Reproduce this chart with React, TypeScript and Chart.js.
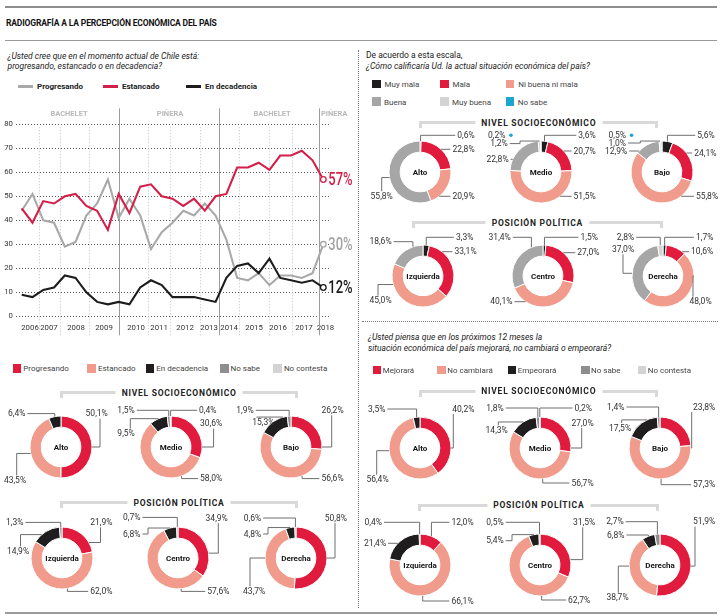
import React, { useEffect, useRef } from "react";
import { Chart, registerables } from "chart.js";
Chart.register(...registerables);

const FONT = "Roboto, 'Noto Sans', 'DejaVu Sans', sans-serif";

// ---------- colours ----------
const RED = "#e11b3e";
const SALMON = "#f09b8c";
const BLACK = "#1f1d1d";
const GRAY = "#a6a6a6";
const NSGRAY = "#8e8e8e";
const LGRAY = "#d3d3d3";
const CYAN = "#1ba6cf";
const LINE_RED = "#d41f4a";
const LINE_GRAY = "#a9a9a9";
const LINE_BLACK = "#1c1c1c";

// ---------- line chart data ----------
const years = ["2006", "2007", "2008", "2009", "2010", "2011", "2012", "2013", "2014", "2015", "2016", "2017", "2018"];
const yearTickIndex = [0.77, 2.53, 5.04, 7.64, 10.61, 12.75, 15.16, 17.39, 19.25, 21.57, 23.8, 26.2, 28.2];
const yearSeparatorIndex = [1.63, 3.56, 6.28, 11.73, 13.77, 16.55, 20.18, 22.96, 25.1];
const governments = ["BACHELET", "PIÑERA", "BACHELET", "PIÑERA"];
const governmentCenterIndex = [4.39, 13.77, 23.24, 29.0];
const governmentChangeIndex = [9.03, 18.35, 27.63];

const progresando = [44, 51, 40, 39, 29, 31, 42, 47, 57, 41, 49, 42, 28, 35, 39, 44, 42, 47, 42, 32, 16, 15, 18, 13, 17, 17, 16, 18, 30];
const estancado = [45, 39, 48, 47, 50, 51, 46, 44, 36, 51, 43, 54, 55, 50, 49, 46, 49, 44, 50, 51, 62, 62, 64, 61, 67, 67, 69, 65, 57];
const decadencia = [9, 8, 11, 12, 17, 16, 10, 6, 5, 6, 5, 12, 15, 13, 8, 8, 8, 7, 6, 16, 21, 22, 18, 24, 16, 15, 14, 15, 12];

// ---------- doughnut data ----------
const califCategories = ["Muy mala", "Mala", "Ni buena ni mala", "Buena", "Muy buena", "No sabe"];
const califColors = [BLACK, RED, SALMON, GRAY, LGRAY, CYAN];
const califAlto = [0.6, 22.8, 20.9, 55.8, 0, 0];
const califMedio = [3.6, 20.7, 51.5, 22.8, 1.2, 0.2];
const califBajo = [5.6, 24.1, 55.8, 12.9, 1.0, 0.5];
const califIzquierda = [3.3, 33.1, 45.0, 18.6, 0, 0];
const califCentro = [1.5, 27.0, 40.1, 31.4, 0, 0];
const califDerecha = [1.7, 10.6, 48.0, 37.0, 2.8, 0];

const momentoCategories = ["Progresando", "Estancado", "En decadencia", "No sabe", "No contesta"];
const momentoColors = [RED, SALMON, BLACK, NSGRAY, LGRAY];
const momentoAlto = [50.1, 43.5, 6.4, 0, 0];
const momentoMedio = [30.6, 58.0, 9.5, 1.5, 0.4];
const momentoBajo = [26.2, 56.6, 15.3, 1.9, 0];
const momentoIzquierda = [21.9, 62.0, 14.9, 1.3, 0];
const momentoCentro = [34.9, 57.6, 6.8, 0.7, 0];
const momentoDerecha = [50.8, 43.7, 4.8, 0.6, 0];

const futuroCategories = ["Mejorará", "No cambiará", "Empeorará", "No sabe", "No contesta"];
const futuroColors = [RED, SALMON, BLACK, NSGRAY, LGRAY];
const futuroAlto = [40.2, 56.4, 3.5, 0, 0];
const futuroMedio = [27.0, 56.7, 14.3, 1.8, 0.2];
const futuroBajo = [23.8, 57.3, 17.5, 1.4, 0];
const futuroIzquierda = [12.0, 66.1, 21.4, 0.4, 0];
const futuroCentro = [31.5, 62.7, 5.4, 0.5, 0];
const futuroDerecha = [51.9, 38.7, 6.8, 2.7, 0];

// ---------- label layouts (offsets from ring centre, leader style) ----------
type Lbl = { dx: number; dy: number; m: string; a?: number; ex?: number } | null;

const L_TR_ALTO: Lbl[] = [{ dx: 46, dy: -36.7, m: "e" }, { dx: 43.5, dy: -22.7, m: "h" }, { dx: 43.5, dy: 24.3, m: "h" }, { dx: -38.3, dy: 24.3, m: "v" }, null, null];
const L_TR_MEDIO: Lbl[] = [{ dx: 46, dy: -36.7, m: "e" }, { dx: 43.7, dy: -21, m: "h" }, { dx: 43.7, dy: 24.3, m: "h" }, { dx: -43.5, dy: -12.7, m: "h" }, { dx: -42, dy: -28.4, m: "z", ex: -21 }, { dx: -44.3, dy: -36.7, m: "dot" }];
const L_TR_BAJO: Lbl[] = [{ dx: 44, dy: -36.7, m: "e" }, { dx: 43.3, dy: -19, m: "h" }, { dx: 45, dy: 24.3, m: "h" }, { dx: -45.9, dy: -21, m: "h" }, { dx: -44.7, dy: -29, m: "z", ex: -21.7 }, { dx: -44.7, dy: -36.7, m: "dot" }];
const L_TR_IZQ: Lbl[] = [{ dx: 41.7, dy: -38.7, m: "e" }, { dx: 42.5, dy: -24.3, m: "h" }, { dx: -42.5, dy: 24.7, m: "v", a: 254, ex: -45 }, { dx: -42.5, dy: -34.3, m: "e", a: 341 }, null, null];
const L_TR_CEN: Lbl[] = [{ dx: 46.2, dy: -38.7, m: "e" }, { dx: 45.4, dy: -23.3, m: "h" }, { dx: -41.6, dy: 25.7, m: "h" }, { dx: -43.3, dy: -38.7, m: "e", a: 338 }, null, null];
const L_TR_DER: Lbl[] = [{ dx: 41.7, dy: -38.7, m: "e" }, { dx: 39.2, dy: -24.3, m: "h" }, { dx: 37.5, dy: 25.7, m: "v", a: 90, ex: 30 }, { dx: -40, dy: -26.7, m: "v", a: 275 }, { dx: -37.5, dy: -38.7, m: "e" }, null];

const L_LB_ALTO: Lbl[] = [{ dx: 35.7, dy: -33.4, m: "v", a: 90, ex: 39 }, { dx: -46, dy: 33.3, m: "v", a: 258, ex: -44.3 }, { dx: -44.3, dy: -33.4, m: "e" }, null, null];
const L_LB_MEDIO: Lbl[] = [{ dx: 40.1, dy: -23.4, m: "v", a: 90, ex: 42.6 }, { dx: 40.1, dy: 31.6, m: "e", a: 160 }, { dx: -44.9, dy: -13.4, m: "v", ex: -40.7 }, { dx: -44.9, dy: -36.7, m: "e" }, { dx: 36.8, dy: -36.7, m: "e" }];
const L_LB_BAJO: Lbl[] = [{ dx: 41.5, dy: -36.7, m: "v", a: 90, ex: 40.7 }, { dx: 41.5, dy: 31.6, m: "e", a: 159 }, { dx: -27.7, dy: -24.5, m: "v", a: 345, ex: -34.3 }, { dx: -46, dy: -36.7, m: "e" }, null];
const L_LB_IZQ: Lbl[] = [{ dx: 39.3, dy: -35.6, m: "v", a: 60, ex: 38.5 }, { dx: 39.3, dy: 33.4, m: "e", a: 170 }, { dx: -44, dy: -6.6, m: "v", a: 319, ex: -41.5 }, { dx: -47.3, dy: -35.6, m: "e" }, null];
const L_LB_CEN: Lbl[] = [{ dx: 38.7, dy: -40, m: "v", a: 81, ex: 40.3 }, { dx: 40.3, dy: 33.4, m: "e", a: 174 }, { dx: -46.3, dy: -24, m: "z", ex: -30 }, { dx: -46.3, dy: -40.6, m: "e" }, null];
const L_LB_DER: Lbl[] = [{ dx: 39.8, dy: -40, m: "v", a: 90, ex: 39 }, { dx: -41.8, dy: 33.4, m: "v", a: 270, ex: -46 }, { dx: -43.5, dy: -24, m: "z", ex: -28 }, { dx: -43.5, dy: -40, m: "e" }, null];

const L_RB_ALTO: Lbl[] = [{ dx: 43.3, dy: -39, m: "v", a: 90, ex: 33.3 }, { dx: -42.5, dy: 31.7, m: "v", a: 265, ex: -43.3 }, { dx: -43.3, dy: -39, m: "e" }, null, null];
const L_RB_MEDIO: Lbl[] = [{ dx: 42.5, dy: -25, m: "v", a: 90, ex: 41.7 }, { dx: 42.5, dy: 35, m: "e", a: 175 }, { dx: -43.3, dy: -17.6, m: "v", ex: -41.7 }, { dx: -45, dy: -40, m: "e" }, { dx: 43.3, dy: -40, m: "e" }];
const L_RB_BAJO: Lbl[] = [{ dx: 44.2, dy: -41, m: "v", a: 90, ex: 31.7 }, { dx: 44.2, dy: 36.7, m: "e", a: 178 }, { dx: -40, dy: -20, m: "v", a: 335, ex: -38.3 }, { dx: -44.2, dy: -41, m: "e" }, null];
const L_RB_IZQ: Lbl[] = [{ dx: 42.5, dy: -42.7, m: "e" }, { dx: 42.5, dy: 36, m: "e", a: 175 }, { dx: -45, dy: -21.7, m: "h" }, { dx: -46.7, dy: -42.7, m: "e" }, null];
const L_RB_CEN: Lbl[] = [{ dx: 44.2, dy: -42.7, m: "v", a: 80, ex: 42.7 }, { dx: 39.2, dy: 35, m: "e", a: 177 }, { dx: -45, dy: -24.3, m: "z", ex: -28 }, { dx: -45, dy: -42.7, m: "e" }, null];
const L_RB_DER: Lbl[] = [{ dx: 44.2, dy: -43.3, m: "v", a: 92, ex: 35 }, { dx: -42.5, dy: 32.7, m: "v", a: 268, ex: -41.7 }, { dx: -44.2, dy: -30, m: "e" }, { dx: -45, dy: -43.3, m: "e" }, null];

// ---------- components ----------
function LineChart() {
  const ref = useRef<HTMLCanvasElement>(null);
  useEffect(() => {
    const pts = (arr: number[]) => arr.map((v, i) => ({ x: i, y: v }));
    const last = progresando.length - 1;
    const overlay = {
      id: "overlay",
      beforeDatasetsDraw(chart: any) {
        const { ctx, chartArea } = chart;
        const x = chart.scales.x;
        ctx.save();
        ctx.lineWidth = 1;
        ctx.strokeStyle = "#c2c2c2";
        ctx.setLineDash([1, 2]);
        yearSeparatorIndex.forEach((v) => {
          const px = Math.round(x.getPixelForValue(v)) + 0.5;
          ctx.beginPath();
          ctx.moveTo(px, chartArea.top + 3);
          ctx.lineTo(px, chartArea.bottom + 19);
          ctx.stroke();
        });
        ctx.setLineDash([]);
        ctx.strokeStyle = "#9c9c9c";
        governmentChangeIndex.forEach((v) => {
          const px = Math.round(x.getPixelForValue(v)) + 0.5;
          ctx.beginPath();
          ctx.moveTo(px, chartArea.top - 16);
          ctx.lineTo(px, chartArea.bottom + 19);
          ctx.stroke();
        });
        ctx.fillStyle = "#b9b9b9";
        ctx.font = `bold 7.5px ${FONT}`;
        ctx.textAlign = "center";
        ctx.textBaseline = "middle";
        governments.forEach((g, i) => {
          ctx.fillText(g, x.getPixelForValue(governmentCenterIndex[i]), chartArea.top - 10);
        });
        ctx.restore();
      },
      afterDatasetsDraw(chart: any) {
        const ctx = chart.ctx;
        chart.data.datasets.forEach((ds: any, di: number) => {
          const meta = chart.getDatasetMeta(di);
          const pt = meta.data[meta.data.length - 1];
          const val = ds.data[ds.data.length - 1].y;
          ctx.save();
          ctx.fillStyle = ds.endColor;
          ctx.font = `500 18px ${FONT}`;
          ctx.textBaseline = "middle";
          ctx.textAlign = "left";
          ctx.translate(pt.x + 5, pt.y + 1);
          ctx.scale(0.72, 1);
          ctx.fillText(`${val}%`, 0, 0);
          ctx.restore();
        });
      },
    };
    const mkDs = (label: string, data: number[], color: string, endColor: string) => ({
      label,
      data: pts(data),
      borderColor: color,
      endColor,
      borderWidth: 2.1,
      tension: 0,
      pointRadius: (c: any) => (c.dataIndex === last ? 2.8 : 0),
      pointBackgroundColor: "#fff",
      pointBorderColor: color,
      pointBorderWidth: 1.3,
      fill: false,
    });
    const chart = new Chart(ref.current as HTMLCanvasElement, {
      type: "line",
      data: {
        datasets: [
          mkDs("En decadencia", decadencia, LINE_BLACK, "#1a1a1a"),
          mkDs("Estancado", estancado, LINE_RED, LINE_RED),
          mkDs("Progresando", progresando, LINE_GRAY, "#a3a3a3"),
        ] as any,
      },
      options: {
        animation: false,
        responsive: false,
        events: [],
        layout: { padding: { top: 24.3, right: 28, left: 0, bottom: 0 } },
        plugins: { legend: { display: false }, tooltip: { enabled: false } },
        scales: {
          x: {
            type: "linear",
            min: -0.53,
            max: 28.62,
            afterBuildTicks: (s: any) => {
              s.ticks = yearTickIndex.map((v) => ({ value: v }));
            },
            afterFit: (s: any) => {
              s.height = 23.7;
            },
            ticks: {
              autoSkip: false,
              maxRotation: 0,
              padding: 7,
              color: "#333",
              font: { size: 7.8, family: FONT },
              callback: (_v: any, i: number) => years[i],
            },
            grid: { display: false, drawTicks: false },
            border: { display: false },
          },
          y: {
            min: 0,
            max: 80,
            ticks: { stepSize: 10, padding: 3, color: "#333", font: { size: 7.8, family: FONT } },
            afterFit: (s: any) => {
              s.width = 16;
            },
            grid: { color: "#5a5a5a", drawTicks: false, lineWidth: 1 },
            border: { display: false, dash: [1, 2] },
          },
        },
      } as any,
      plugins: [overlay],
    });
    return () => chart.destroy();
  }, []);
  return (
    <canvas
      ref={ref}
      width={358}
      height={240}
      style={{ position: "absolute", left: 0, top: 100, width: 358, height: 240 }}
    />
  );
}

function Donut({ cx, cy, name, values, colors, categories, layout }: any) {
  const ref = useRef<HTMLCanvasElement>(null);
  const W = 124;
  const H = 104;
  useEffect(() => {
    const plugin = {
      id: "donutLabels",
      afterDatasetsDraw(chart: any) {
        const ctx = chart.ctx;
        const meta = chart.getDatasetMeta(0);
        const first = meta.data[0];
        const ox = first.x;
        const oy = first.y;
        const R = first.outerRadius;
        ctx.save();
        ctx.fillStyle = "#151515";
        ctx.font = `bold 8px ${FONT}`;
        ctx.textAlign = "center";
        ctx.textBaseline = "middle";
        ctx.fillText(name, ox, oy + 0.5);
        ctx.font = `8.5px ${FONT}`;
        layout.forEach((L: Lbl, i: number) => {
          if (!L) return;
          const arc = meta.data[i];
          const ang = L.a !== undefined ? (L.a * Math.PI) / 180 - Math.PI / 2 : (arc.startAngle + arc.endAngle) / 2;
          const ax = ox + R * Math.cos(ang);
          const ay = oy + R * Math.sin(ang);
          const lx = ox + L.dx;
          const ly = oy + L.dy;
          const txt = values[i].toFixed(1).replace(".", ",") + "%";
          const w = ctx.measureText(txt).width;
          ctx.fillStyle = "#333";
          ctx.fillText(txt, lx, ly + 0.5);
          const right = L.dx > 0;
          const edge = right ? lx - w / 2 - 2 : lx + w / 2 + 2;
          ctx.strokeStyle = "#6e6e6e";
          ctx.lineWidth = 1;
          ctx.beginPath();
          if (L.m === "h") {
            const hx = ox + (right ? 1 : -1) * Math.sqrt(Math.max(R * R - L.dy * L.dy, 0));
            ctx.moveTo(edge, ly);
            ctx.lineTo(hx, ly);
          } else if (L.m === "e") {
            ctx.moveTo(edge, ly);
            ctx.lineTo(ax, ly);
            ctx.lineTo(ax, ay);
          } else if (L.m === "v") {
            const vx = ox + (L.ex !== undefined ? L.ex : L.dx);
            const sy = ay < ly ? ly - 5 : ly + 5;
            ctx.moveTo(vx, sy);
            ctx.lineTo(vx, ay);
            ctx.lineTo(ax, ay);
          } else if (L.m === "z") {
            const zx = ox + (L.ex !== undefined ? L.ex : 0);
            ctx.moveTo(edge, ly);
            ctx.lineTo(zx, ly);
            ctx.lineTo(zx, ay);
            ctx.lineTo(ax, ay);
          }
          ctx.stroke();
          if (L.m === "dot") {
            ctx.fillStyle = colors[i];
            ctx.beginPath();
            ctx.arc(edge + 3.5, ly, 1.8, 0, Math.PI * 2);
            ctx.fill();
          }
        });
        ctx.restore();
      },
    };
    const chart = new Chart(ref.current as HTMLCanvasElement, {
      type: "doughnut",
      data: {
        labels: categories,
        datasets: [{ data: values, backgroundColor: colors, borderColor: "#fff", borderWidth: 1 }],
      },
      options: {
        animation: false,
        responsive: false,
        events: [],
        radius: 31,
        cutout: "64%",
        plugins: { legend: { display: false }, tooltip: { enabled: false } },
      } as any,
      plugins: [plugin],
    });
    return () => chart.destroy();
  }, []);
  return (
    <canvas
      ref={ref}
      width={W}
      height={H}
      style={{ position: "absolute", left: cx - W / 2, top: cy - H / 2, width: W, height: H }}
    />
  );
}

function Txt({ x, y, children, style }: any) {
  return (
    <div
      style={{
        position: "absolute",
        left: x,
        top: y,
        transform: "translateY(-50%)",
        whiteSpace: "nowrap",
        lineHeight: "11px",
        fontSize: 8,
        color: "#333",
        ...style,
      }}
    >
      {children}
    </div>
  );
}

function Bracket({ x1, x2, y, text }: any) {
  return (
    <>
      <div
        style={{
          position: "absolute",
          left: x1,
          top: y - 1.5,
          width: x2 - x1,
          height: 7,
          boxSizing: "border-box",
          borderTop: "3px solid #d9d9d9",
          borderLeft: "3px solid #d9d9d9",
          borderRight: "3px solid #d9d9d9",
        }}
      />
      <div
        style={{
          position: "absolute",
          left: (x1 + x2) / 2,
          top: y,
          transform: "translate(-50%, -50%)",
          background: "#fff",
          padding: "0 6px",
          fontWeight: "bold",
          fontSize: 8.5,
          letterSpacing: "0.75px",
          color: "#222",
          whiteSpace: "nowrap",
          lineHeight: "10px",
        }}
      >
        {text}
      </div>
    </>
  );
}

function SquareLegend({ items, y }: any) {
  return (
    <>
      {items.map((it: any, i: number) => (
        <React.Fragment key={i}>
          <div style={{ position: "absolute", left: it.x, top: y - 4.25, width: 8.5, height: 8.5, background: it.color }} />
          <Txt x={it.x + it.gap} y={y} style={{ color: "#444" }}>
            {it.label}
          </Txt>
        </React.Fragment>
      ))}
    </>
  );
}

export default function App() {
  const lineLegend = [
    { label: "Progresando", color: LINE_GRAY, x: 18 },
    { label: "Estancado", color: LINE_RED, x: 103 },
    { label: "En decadencia", color: LINE_BLACK, x: 186 },
  ];
  const lbLegendX = [12.7, 87.3, 145.7, 220, 273.3];
  const rbLegendX = [372.7, 437.3, 507.7, 581, 637.7];
  const trLegendX = [372, 440, 505.7];
  return (
    <div
      style={{
        position: "absolute",
        left: 0,
        top: 0,
        width: 722,
        height: 615,
        background: "#fff",
        fontFamily: FONT,
        overflow: "hidden",
      }}
    >
      {/* rules */}
      <div style={{ position: "absolute", left: 5, top: 6, width: 712, height: 2, background: "#8d8d8d" }} />
      <div style={{ position: "absolute", left: 5, top: 40, width: 712, height: 1, background: "#9a9a9a" }} />
      <div style={{ position: "absolute", left: 5, top: 612, width: 712, height: 2, background: "#9a9a9a" }} />
      <div style={{ position: "absolute", left: 358, top: 50, width: 0, height: 558, borderLeft: "1px dotted #777" }} />
      <div style={{ position: "absolute", left: 362, top: 321, width: 356, height: 0, borderTop: "1px dotted #777" }} />

      <Txt x={6} y={23} style={{ fontWeight: "bold", fontSize: 8.5, color: "#111", letterSpacing: "-0.15px" }}>
        RADIOGRAFÍA A LA PERCEPCIÓN ECONÓMICA DEL PAÍS
      </Txt>

      {/* left top: question + line chart */}
      <Txt x={7.5} y={56} style={{ fontStyle: "italic", fontSize: 8.5, color: "#222" }}>
        ¿Usted cree que en el momento actual de Chile está:
      </Txt>
      <Txt x={7.5} y={65.5} style={{ fontStyle: "italic", fontSize: 8.5, color: "#222" }}>
        progresando, estancado o en decadencia?
      </Txt>
      {lineLegend.map((l, i) => (
        <React.Fragment key={i}>
          <div style={{ position: "absolute", left: l.x, top: 84.5, width: 15, height: 3, background: l.color }} />
          <Txt x={l.x + 19} y={86} style={{ fontWeight: "bold", color: "#222" }}>
            {l.label}
          </Txt>
        </React.Fragment>
      ))}
      <LineChart />

      {/* left bottom: momento doughnuts */}
      <SquareLegend
        y={368.3}
        items={momentoCategories.map((c, i) => ({ label: c, color: momentoColors[i], x: lbLegendX[i], gap: 10.6 }))}
      />
      <Bracket x1={60} x2={298.3} y={392.7} text="NIVEL SOCIOECONÓMICO" />
      <Bracket x1={60} x2={298} y={502.7} text="POSICIÓN POLÍTICA" />
      <Donut cx={61} cy={446.7} name="Alto" values={momentoAlto} colors={momentoColors} categories={momentoCategories} layout={L_LB_ALTO} />
      <Donut cx={170.7} cy={446.7} name="Medio" values={momentoMedio} colors={momentoColors} categories={momentoCategories} layout={L_LB_MEDIO} />
      <Donut cx={291} cy={446.7} name="Bajo" values={momentoBajo} colors={momentoColors} categories={momentoCategories} layout={L_LB_BAJO} />
      <Donut cx={61.5} cy={558.3} name="Izquierda" values={momentoIzquierda} colors={momentoColors} categories={momentoCategories} layout={L_LB_IZQ} />
      <Donut cx={178} cy={558.3} name="Centro" values={momentoCentro} colors={momentoColors} categories={momentoCategories} layout={L_LB_CEN} />
      <Donut cx={296} cy={558.3} name="Derecha" values={momentoDerecha} colors={momentoColors} categories={momentoCategories} layout={L_LB_DER} />

      {/* right top: calificación doughnuts */}
      <Txt x={366} y={55} style={{ fontSize: 8.5, color: "#222" }}>
        De acuerdo a esta escala,
      </Txt>
      <Txt x={366} y={65.5} style={{ fontStyle: "italic", fontSize: 8.5, color: "#222" }}>
        ¿Cómo calificaría Ud. la actual situación económica del país?
      </Txt>
      <SquareLegend
        y={84}
        items={califCategories.slice(0, 3).map((c, i) => ({ label: c, color: califColors[i], x: trLegendX[i], gap: 12.5 }))}
      />
      <SquareLegend
        y={101.7}
        items={califCategories.slice(3).map((c, i) => ({ label: c, color: califColors[i + 3], x: trLegendX[i], gap: 12 }))}
      />
      <Bracket x1={419.3} x2={658.3} y={122.7} text="NIVEL SOCIOECONÓMICO" />
      <Bracket x1={411.7} x2={663} y={222.7} text="POSICIÓN POLÍTICA" />
      <Donut cx={420} cy={171.7} name="Alto" values={califAlto} colors={califColors} categories={califCategories} layout={L_TR_ALTO} />
      <Donut cx={541} cy={171.7} name="Medio" values={califMedio} colors={califColors} categories={califCategories} layout={L_TR_MEDIO} />
      <Donut cx={661.7} cy={171.7} name="Bajo" values={califBajo} colors={califColors} categories={califCategories} layout={L_TR_BAJO} />
      <Donut cx={423.3} cy={276} name="Izquierda" values={califIzquierda} colors={califColors} categories={califCategories} layout={L_TR_IZQ} />
      <Donut cx={543.3} cy={276} name="Centro" values={califCentro} colors={califColors} categories={califCategories} layout={L_TR_CEN} />
      <Donut cx={663.3} cy={276} name="Derecha" values={califDerecha} colors={califColors} categories={califCategories} layout={L_TR_DER} />

      {/* right bottom: futuro doughnuts */}
      <Txt x={368} y={336.7} style={{ fontStyle: "italic", fontSize: 8.5, color: "#222" }}>
        ¿Usted piensa que en los próximos 12 meses la
      </Txt>
      <Txt x={368} y={348.3} style={{ fontStyle: "italic", fontSize: 8.5, color: "#222" }}>
        situación económica del país mejorará, no cambiará o empeorará?
      </Txt>
      <SquareLegend
        y={370}
        items={futuroCategories.map((c, i) => ({ label: c, color: futuroColors[i], x: rbLegendX[i], gap: 10 }))}
      />
      <Bracket x1={419.3} x2={658.3} y={391} text="NIVEL SOCIOECONÓMICO" />
      <Bracket x1={418.3} x2={659.3} y={505} text="POSICIÓN POLÍTICA" />
      <Donut cx={420} cy={448.3} name="Alto" values={futuroAlto} colors={futuroColors} categories={futuroCategories} layout={L_RB_ALTO} />
      <Donut cx={540} cy={448.3} name="Medio" values={futuroMedio} colors={futuroColors} categories={futuroCategories} layout={L_RB_MEDIO} />
      <Donut cx={660} cy={448.3} name="Bajo" values={futuroBajo} colors={futuroColors} categories={futuroCategories} layout={L_RB_BAJO} />
      <Donut cx={420} cy={565} name="Izquierda" values={futuroIzquierda} colors={futuroColors} categories={futuroCategories} layout={L_RB_IZQ} />
      <Donut cx={540} cy={565} name="Centro" values={futuroCentro} colors={futuroColors} categories={futuroCategories} layout={L_RB_CEN} />
      <Donut cx={660} cy={565} name="Derecha" values={futuroDerecha} colors={futuroColors} categories={futuroCategories} layout={L_RB_DER} />
    </div>
  );
}
